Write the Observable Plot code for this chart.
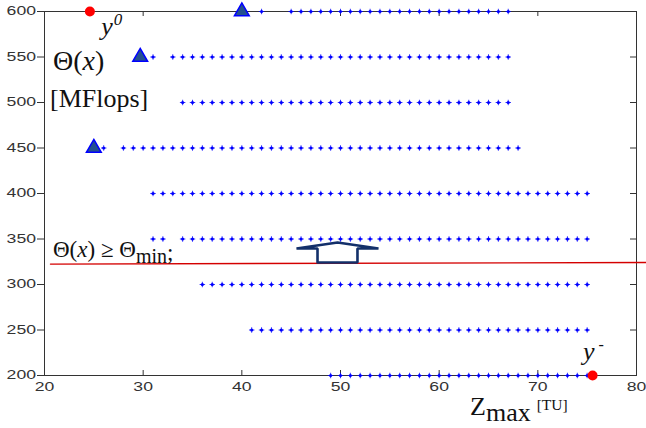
<!DOCTYPE html>
<html><head><meta charset="utf-8">
<script src="https://cdn.jsdelivr.net/npm/d3@7"></script>
<script src="https://cdn.jsdelivr.net/npm/@observablehq/plot@0.6"></script>
<style>body{margin:0;background:#fff;} #chart svg{display:block}</style>
</head><body><div id="chart"></div>
<script>
const xTicks = [20, 30, 40, 50, 60, 70, 80];
const yTicks = [200, 250, 300, 350, 400, 450, 500, 550, 600];

// Z_max values of the feasible solutions, one list per Θ level
const row600 = [42,45,46,47,48,49,50,51,52,53,54,55,56,57,58,59,60,61,62,63,64,65,66,67];
const row550 = [31,33,34,35,36,37,38,39,40,41,42,43,44,45,46,47,48,49,50,51,52,53,54,55,56,57,58,59,60,61,62,63,64,65,66,67];
const row500 = [34,35,36,37,38,39,40,41,42,43,44,45,46,47,48,49,50,51,52,53,54,55,56,57,58,59,60,61,62,63,64,65,66,67];
const row450 = [26,28,29,30,31,32,33,34,35,36,37,38,39,40,41,42,43,44,45,46,47,48,49,50,51,52,53,54,55,56,57,58,59,60,61,62,63,64,65,66,67,68];
const row400 = [31,32,33,34,35,36,37,38,39,40,41,42,43,44,45,46,47,48,49,50,51,52,53,54,55,56,57,58,59,60,61,62,63,64,65,66,67,68,69,70,71,72,73,74,75];
const row350 = [31,32,34,35,36,37,38,39,40,41,42,43,44,45,46,47,48,49,50,51,52,53,54,55,56,57,58,59,60,61,62,63,64,65,66,67,68,69,70,71,72,73,74,75];
const row300 = [36,37,38,39,40,41,42,43,44,45,46,47,48,49,50,51,52,53,54,55,56,57,58,59,60,61,62,63,64,65,66,67,68,69,70,71,72,73,74,75];
const row250 = [41,42,43,44,45,46,47,48,49,50,51,52,53,54,55,56,57,58,59,60,61,62,63,64,65,66,67,68,69,70,71,72,73,74,75];
const row200 = [49,50,51,52,53,54,55,56,57,58,59,60,61,62,63,64,65,66,67,68,69,70,71,72,73,74,75];
const rowLevels = [600, 550, 500, 450, 400, 350, 300, 250, 200];
const rowValues = [row600, row550, row500, row450, row400, row350, row300, row250, row200];

// Pareto front (triangles) and extreme points
const paretoX = [40, 29.7, 25];
const paretoY = [600, 550, 450];
const extremeX = [24.6, 75.55];
const extremeY = [600, 200];

// Θ_min constraint line
const thetaLineX = [20.6, 81];
const thetaLineY = [322.5, 324.2];

// upward arrow outline (data units)
const arrowX = [47.67, 47.67, 45.54, 49.70, 53.85, 51.72, 51.72, 47.67];
const arrowY = [324.2, 339.6, 339.6, 346.2, 339.6, 339.6, 324.2, 324.2];

const points = rowLevels.flatMap((y, i) => rowValues[i].map(x => ({x, y})));
const pareto = paretoX.map((x, i) => ({x, y: paretoY[i]}));
const extremes = extremeX.map((x, i) => ({x, y: extremeY[i]}));
const thetaLine = thetaLineX.map((x, i) => ({x, y: thetaLineY[i]}));
const arrow = arrowX.map((x, i) => ({x, y: arrowY[i]}));

const plot = Plot.plot({
  width: 646, height: 428,
  marginLeft: 44, marginRight: 10, marginTop: 11, marginBottom: 53,
  x: {domain: [20, 80], label: null},
  y: {domain: [200, 600], label: null},
  style: {fontFamily: "'Liberation Sans', Arial, sans-serif", fontSize: "12px", color: "#333", background: "#fff", overflow: "visible"},
  marks: [
    Plot.frame({stroke: "#333"}),
    Plot.axisX(xTicks, {tickSize: 0, tickPadding: 7, label: null}),
    Plot.axisY(yTicks, {tickSize: 7, tickPadding: 1.5, label: null, stroke: "#333"}),
    Plot.ruleX(xTicks, {insetTop: 359, stroke: "#333"}),
    Plot.ruleX(xTicks, {insetBottom: 359, stroke: "#333"}),
    Plot.ruleY(yTicks, {insetLeft: 586, stroke: "#333"}),
    Plot.line(thetaLine, {x: "x", y: "y", stroke: "#d40000", strokeWidth: 1.3}),
    Plot.dot(points, {x: "x", y: "y", symbol: "circle", fill: "#0000ff", r: 1.6}),
    Plot.dot(points, {x: "x", y: "y", symbol: "plus", stroke: "#0000ff", strokeWidth: 0.8, r: 1.9}),
    Plot.line(arrow, {x: "x", y: "y", stroke: "#13306a", strokeWidth: 2.6, fill: "#fff", strokeLinejoin: "miter"}),
    Plot.dot(pareto, {x: "x", y: "y", symbol: "triangle", r: 5.5, fill: "#24508f", stroke: "#0000ff", strokeWidth: 1.5}),
    Plot.dot(extremes, {x: "x", y: "y", r: 5, fill: "#ff0000"})
  ]
});

d3.select(plot).selectAll('g[aria-label="x-axis tick label"] text, g[aria-label="y-axis tick label"] text')
  .each(function () {
    const n = this.textContent.length;
    this.setAttribute("textLength", n * 9.8);
    this.setAttribute("lengthAdjust", "spacingAndGlyphs");
  });

// annotations, positioned through the plot's own scales
const sx = plot.scale("x"), sy = plot.scale("y");
const g = d3.select(plot).append("g")
  .attr("font-family", "'Liberation Serif', 'Times New Roman', serif")
  .attr("text-anchor", "start")
  .attr("fill", "#111");

function label(x, y, size, parts) {
  const t = g.append("text").attr("x", sx.apply(x)).attr("y", sy.apply(y)).attr("font-size", size);
  for (const p of parts) {
    const s = t.append("tspan").text(p.t);
    if (p.i) s.attr("font-style", "italic");
    if (p.size) s.attr("font-size", p.size);
    if (p.dy) s.attr("dy", p.dy);
    if (p.dx) s.attr("dx", p.dx);
  }
}
label(25.8, 573.6, 26, [{t: "y", i: true}, {t: "0", i: true, size: 17, dy: -10, dx: 1}]);
label(20.91, 535.2, 28, [{t: "Θ("}, {t: "x", i: true}, {t: ")"}]);
label(20.61, 494.5, 26, [{t: "[MFlops]"}]);
label(20.91, 329.7, 23, [{t: "Θ("}, {t: "x", i: true}, {t: ") ≥ Θ"}, {t: "min", size: 20, dy: 6}, {t: ";", dy: -3}]);
label(74.63, 216.5, 26, [{t: "y", i: true}, {t: "-", size: 16, dy: -10, dx: 4}]);
label(63.18, 156.0, 26, [{t: "Z"}, {t: "max", dy: 6}, {t: "[TU]", size: 15.5, dy: -11, dx: 6}]);

document.getElementById("chart").append(plot);
</script>
</body></html>
